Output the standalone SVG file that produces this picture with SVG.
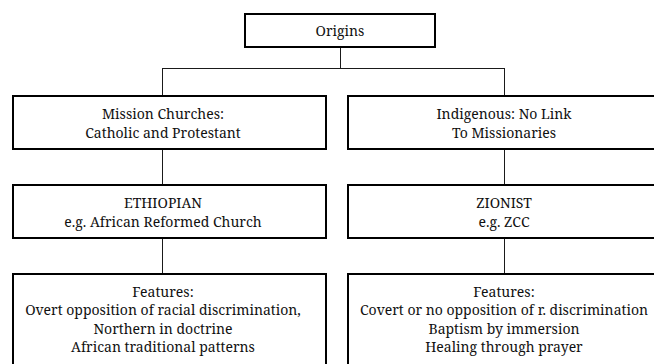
<svg xmlns="http://www.w3.org/2000/svg" width="654" height="364" viewBox="0 0 654 364">
<style>
.box{fill:#fff;stroke:#000;stroke-width:2}
.ln{stroke:#1a1a1a;stroke-width:1;fill:none}
text{fill:#111;text-anchor:middle}
</style>
<rect width="654" height="364" fill="#fff"/>
<g id="connectors">
<path class="ln" d="M340.5,48V68.5M162.5,68.5H504.5M162.5,68V95M504.5,68V95M162.5,150V184M504.5,150V184M162.5,239V273M504.5,239V273"/>
</g>
<g font-family="'Noto Serif', 'DejaVu Serif', serif" font-size="14">
<g id="origins">
<rect class="box" x="245" y="14" width="190" height="33"/>
<text x="340" y="36">Origins</text>
</g>
<g id="mission">
<rect class="box" x="13" y="96" width="313" height="53"/>
<text x="163" y="119">Mission Churches:</text>
<text x="163" y="138">Catholic and Protestant</text>
</g>
<g id="indigenous">
<rect class="box" x="348" y="96" width="313" height="53"/>
<text x="504" y="119">Indigenous: No Link</text>
<text x="504" y="138">To Missionaries</text>
</g>
<g id="ethiopian">
<rect class="box" x="13" y="185" width="313" height="53"/>
<text x="163" y="208">ETHIOPIAN</text>
<text x="163" y="227">e.g. African Reformed Church</text>
</g>
<g id="zionist">
<rect class="box" x="348" y="185" width="313" height="53"/>
<text x="504" y="208">ZIONIST</text>
<text x="504" y="227">e.g. ZCC</text>
</g>
<g id="features-ethiopian">
<rect class="box" x="13" y="274" width="313" height="100"/>
<text x="163" y="297">Features:</text>
<text x="163" y="315">Overt opposition of racial discrimination,</text>
<text x="163" y="334">Northern in doctrine</text>
<text x="163" y="352">African traditional patterns</text>
</g>
<g id="features-zionist">
<rect class="box" x="348" y="274" width="313" height="100"/>
<text x="504" y="297">Features:</text>
<text x="504" y="315">Covert or no opposition of r. discrimination</text>
<text x="504" y="334">Baptism by immersion</text>
<text x="504" y="352">Healing through prayer</text>
</g>
</g>
</svg>
